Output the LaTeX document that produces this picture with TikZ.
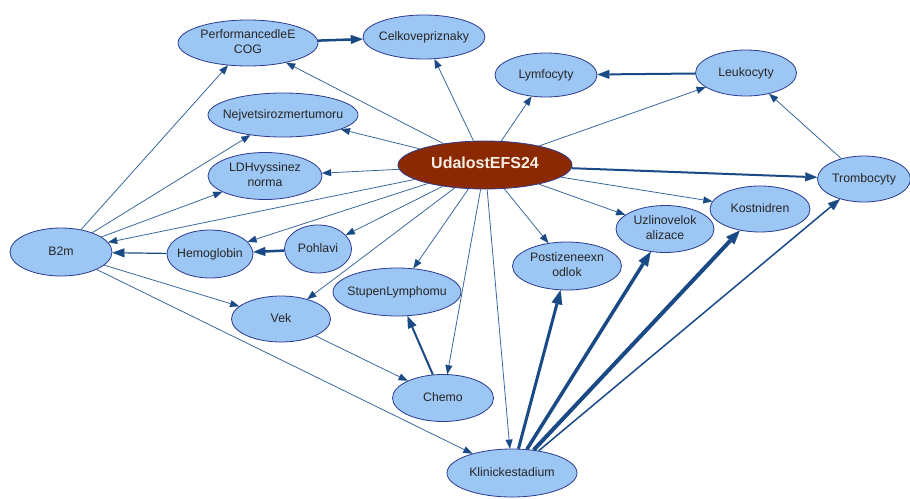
\documentclass[tikz,border=0pt]{standalone}
\usepackage{fontspec}
\setmainfont{Liberation Sans}
\usetikzlibrary{shapes.geometric,arrows.meta}
\definecolor{nodefill}{HTML}{9CC6F4}
\definecolor{nodeline}{HTML}{2B3B8F}
\definecolor{edgec}{HTML}{1A4A85}
\definecolor{edgelight}{HTML}{3A689E}
\definecolor{rootfill}{HTML}{8B2A02}
\definecolor{roottext}{HTML}{F8EDE3}
% centred label whose width does not enlarge the ellipse
\newcommand\nlabel[1]{\makebox[0pt]{\begin{tabular}{@{}c@{}}#1\end{tabular}}}

\begin{document}
\begin{tikzpicture}[x=1pt,y=-1pt,
  var/.style={ellipse, draw=nodeline, line width=0.8pt, fill=nodefill,
    inner sep=0pt, text=black!85, font=\fontsize{12.3}{15.5}\selectfont},
  root/.style={var, fill=rootfill, text=roottext,
    font=\fontsize{16}{18}\selectfont\bfseries},
  sz/.style 2 args={minimum width=#1pt, minimum height=#2pt},
  arr/.style={draw=edgelight, line width=0.8pt,
    -{Triangle[length=9pt,width=7pt,line width=0.1pt,color=edgec]}},
  heavy/.style={draw=edgec, line width=#1,
    -{Triangle[length=12pt,width=9pt,line width=0.1pt,color=edgec]}},
  heavier/.style={draw=edgec, line width=#1,
    -{Triangle[length=14pt,width=11pt,line width=0.1pt,color=edgec]}}
]
\useasboundingbox (0,0) rectangle (910,498);

% nodes
\node[var, sz={140}{46}] (perf) at (248,43) {\nlabel{PerformancedleE\\COG}};
\node[var, sz={122}{44}] (celk) at (424,37) {\nlabel{Celkovepriznaky}};
\node[var, sz={102}{44}] (lymf) at (546,75) {\nlabel{Lymfocyty}};
\node[var, sz={101}{46}] (leuk) at (746,73) {\nlabel{Leukocyty}};
\node[var, sz={150}{44}] (nejv) at (283,115) {\nlabel{Nejvetsirozmertumoru}};
\node[root, sz={174}{48}] (udal) at (485,165) {\nlabel{UdalostEFS24}};
\node[var, sz={114}{47}] (ldh) at (265,176) {\nlabel{LDHvyssinez\\norma}};
\node[var, sz={93}{46}] (trom) at (864,179) {\nlabel{Trombocyty}};
\node[var, sz={100}{46}] (kost) at (760,209) {\nlabel{Kostnidren}};
\node[var, sz={98}{47}] (uzli) at (665,229) {\nlabel{Uzlinovelok\\alizace}};
\node[var, sz={109}{48}] (post) at (567,266) {\nlabel{Postizeneexn\\odlok}};
\node[var, sz={102}{48}] (b2m) at (61,252) {\nlabel{B2m}};
\node[var, sz={86}{48}] (hemo) at (210,254) {\nlabel{Hemoglobin}};
\node[var, sz={67}{48}] (pohl) at (318,249) {\nlabel{Pohlavi}};
\node[var, sz={128}{48}] (stup) at (397,292) {\nlabel{StupenLymphomu}};
\node[var, sz={99}{46}] (vek) at (281,319) {\nlabel{Vek}};
\node[var, sz={101}{47}] (chem) at (443,398) {\nlabel{Chemo}};
\node[var, sz={130}{48}] (klin) at (512,473) {\nlabel{Klinickestadium}};

% edges leaving the outcome node
\draw[arr] (udal) -- (perf);
\draw[arr] (udal) -- (celk);
\draw[arr] (udal) -- (nejv);
\draw[arr] (udal) -- (lymf);
\draw[arr] (udal) -- (leuk);
\draw[arr] (udal) -- (ldh);
\draw[heavy=2pt] (udal) -- (trom);
\draw[arr] (udal) -- (kost);
\draw[arr] (udal) -- (uzli);
\draw[arr] (udal) -- (post);
\draw[arr] (udal) -- (klin);
\draw[arr] (udal) -- (chem);
\draw[arr] (udal) -- (stup);
\draw[arr] (udal) -- (vek);
\draw[arr] (udal) -- (pohl);
\draw[arr] (udal) -- (hemo);
\draw[arr] (udal) -- (b2m);

% remaining dependencies
\draw[heavy=2.5pt] (perf) -- (celk);
\draw[heavy=2pt] (leuk) -- (lymf);
\draw[arr] (trom) -- (leuk);
\draw[arr] (b2m) -- (perf);
\draw[arr] (b2m) -- (nejv);
\draw[arr] (b2m) -- (ldh);
\draw[heavy=1.2pt] (hemo) -- (b2m);
\draw[heavy=2.5pt] (pohl) -- (hemo);
\draw[arr] (b2m) -- (vek);
\draw[arr] (b2m) -- (klin);
\draw[arr] (vek) -- (chem);
\draw[heavy=2pt] (chem) -- (stup);
\draw[heavier=3pt] (klin) -- (post);
\draw[heavier=3.5pt] (klin) -- (uzli);
\draw[heavier=4pt] (klin) -- (kost);
\draw[heavy=1.5pt] (klin) -- (trom);
\end{tikzpicture}
\end{document}
